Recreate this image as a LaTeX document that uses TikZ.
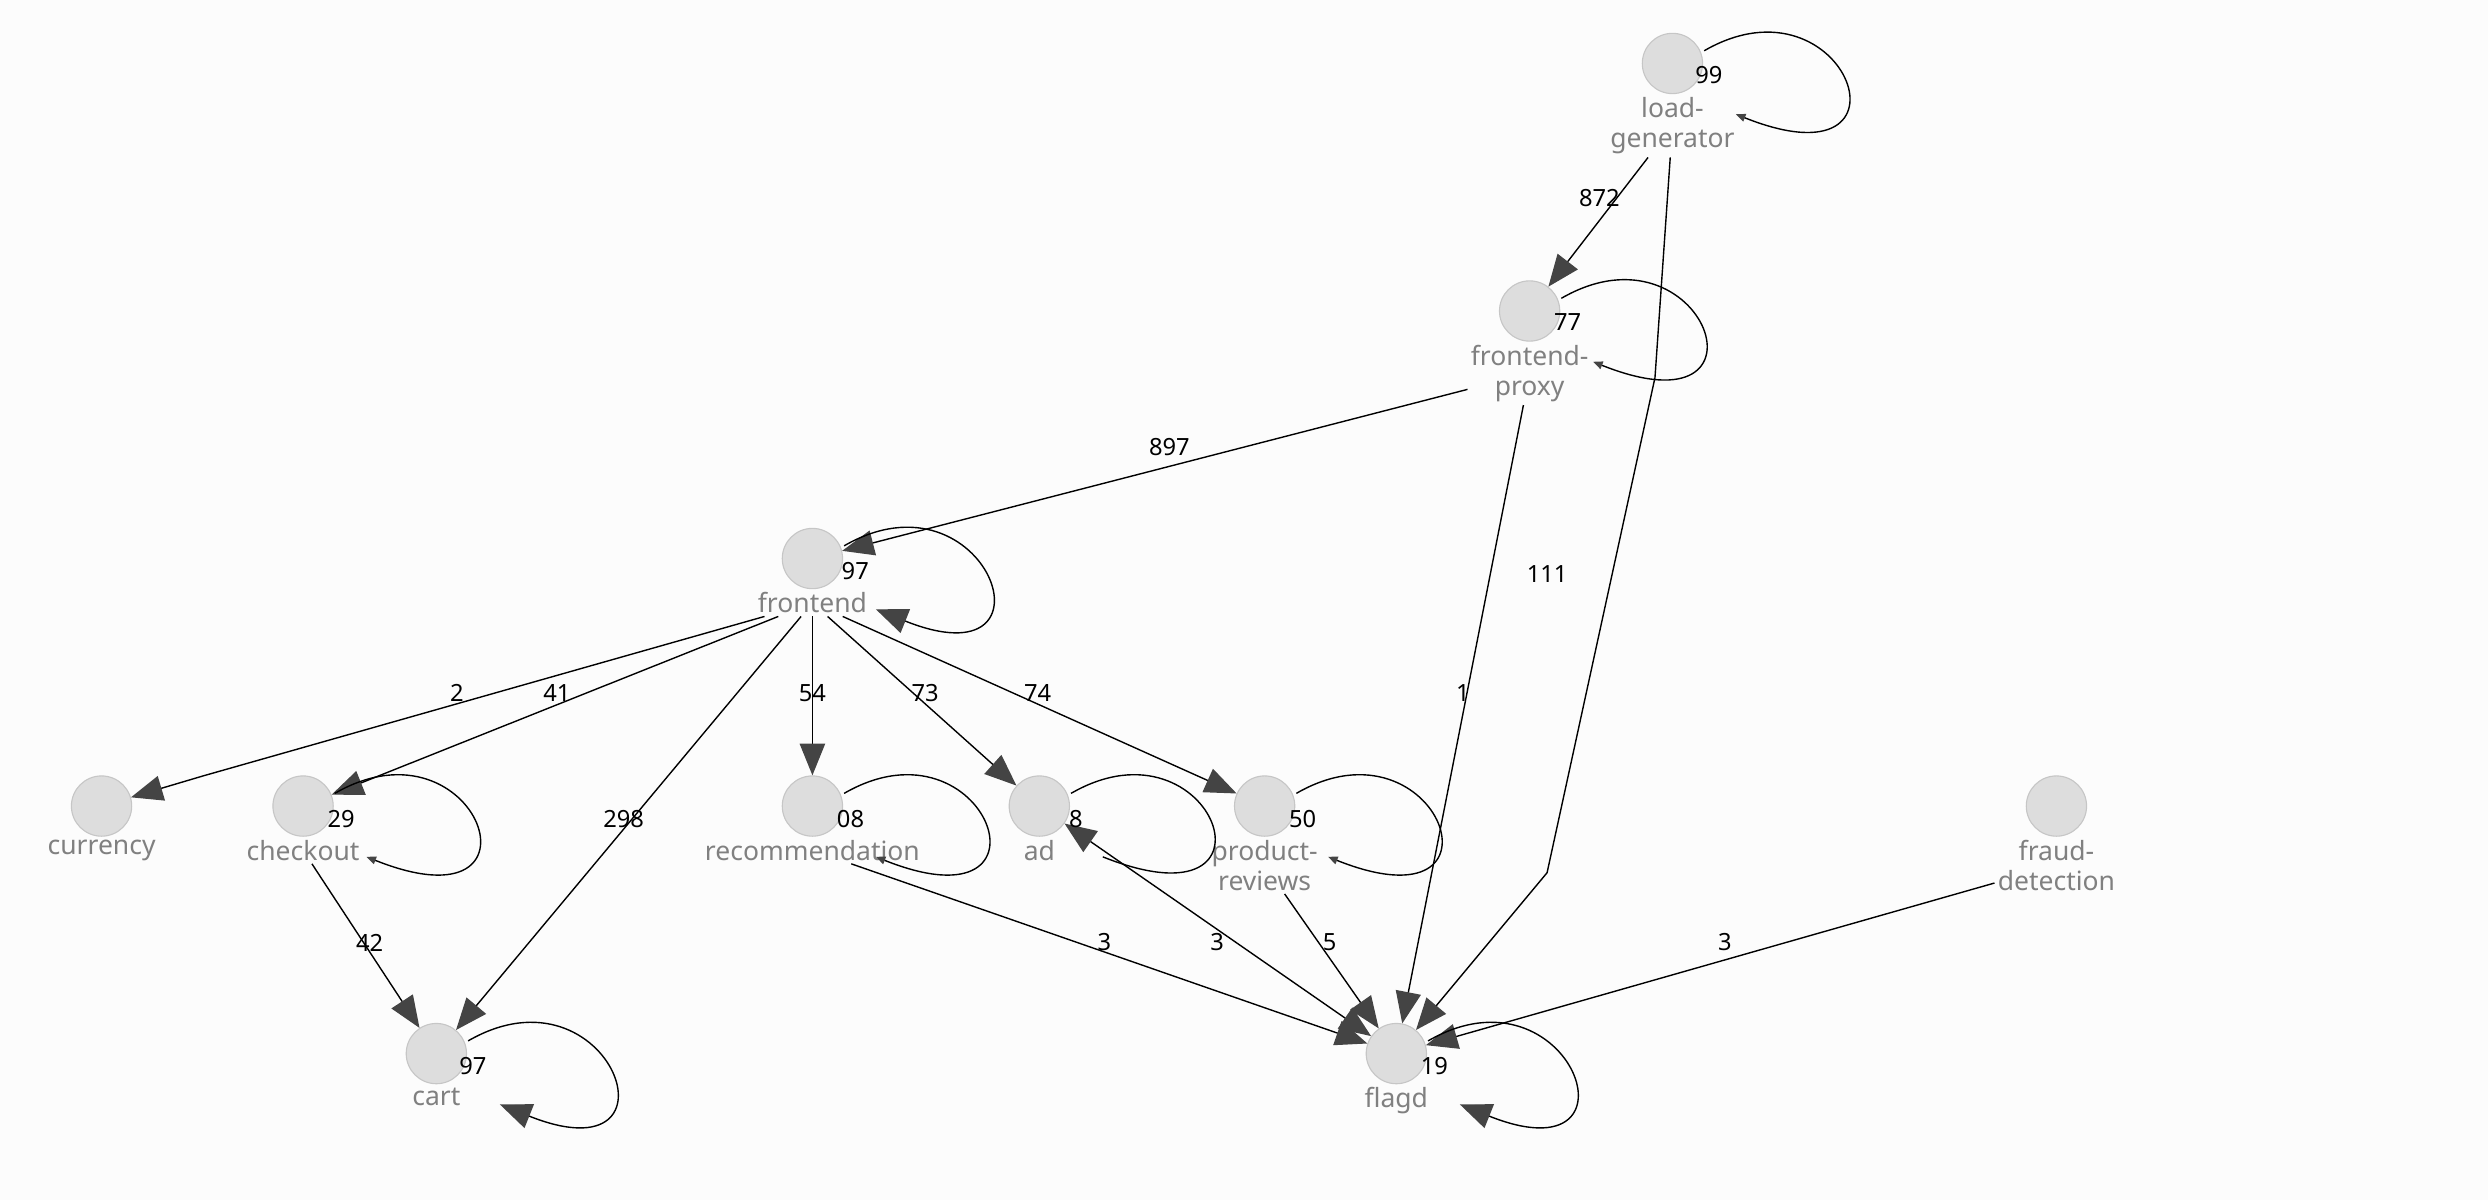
\documentclass[tikz,border=0pt]{standalone}
\usepackage{fontspec}
\setmainfont{Noto Sans}
\usetikzlibrary{arrows.meta}
\definecolor{nodefill}{HTML}{DDDDDD}
\definecolor{nodeline}{HTML}{C6C6C6}
\definecolor{nametext}{HTML}{808080}
\definecolor{tipcol}{HTML}{444444}
\tikzset{
 svc/.style={circle,fill=nodefill,draw=nodeline,minimum size=0.76cm,inner sep=0pt},
 svcname/.style={text=nametext,font=\bfseries\fontsize{9.5}{10.8}\selectfont,align=center,inner sep=1pt},
 elabel/.style={font=\bfseries\fontsize{8.5}{9}\selectfont,inner sep=0pt},
 edge/.style={draw=black,line width=0.5pt,-{Triangle[length=0.4cm,width=0.32cm,color=tipcol]}},
 smalltip/.style={draw=black,line width=0.5pt,-{Triangle[length=0.12cm,width=0.1cm,color=tipcol]}},
 both/.style={draw=black,line width=0.5pt,{Triangle[length=0.4cm,width=0.32cm,color=tipcol]}-{Triangle[length=0.4cm,width=0.32cm,color=tipcol]}},
}
% self loop: node, tip style
\newcommand{\selfloop}[2]{%
 \draw[#2] ([shift={(20,-8)}]#1.center) .. controls ([shift={(110,-60)}]#1.center) and ([shift={(160,80)}]#1.center) .. ([shift={(40,32)}]#1.center);}
\begin{document}
\begin{tikzpicture}[x=0.02cm,y=-0.02cm]
 \fill[white!99!black] (0,0) rectangle (1568,756);
 \useasboundingbox (0,0) rectangle (1568,756);

 % services
 \node[svc,label={[svcname,name=lgl]below:load-\\generator}] (lg) at (1054,40) {};
 \node[svc,label={[svcname,name=fpl]below:frontend-\\proxy}] (fp) at (964,196) {};
 \node[svc,label={[svcname,name=fel]below:frontend}] (fe) at (512,352) {};
 \node[svc,label={[svcname,name=cul]below:currency}] (cu) at (64,508) {};
 \node[svc,label={[svcname,name=col]below:checkout}] (co) at (191,508) {};
 \node[svc,label={[svcname,name=rel]below:recommendation}] (re) at (512,508) {};
 \node[svc,label={[svcname,name=adl]below:ad}] (ad) at (655,508) {};
 \node[svc,label={[svcname,name=prl]below:product-\\reviews}] (pr) at (797,508) {};
 \node[svc,label={[svcname,name=frl]below:fraud-\\detection}] (fr) at (1296,508) {};
 \node[svc,label={[svcname,name=cal]below:cart}] (ca) at (275,664) {};
 \node[svc,label={[svcname,name=fdl]below:flagd}] (fd) at (880,664) {};

 % bends
 \coordinate (b1) at (1043,238);
 \coordinate (b2) at (975,550);
 \coordinate (b3) at (128,489);

 % calls
 \draw[edge] (lgl) -- (fp);
 \draw[edge] (lgl) -- (b1) -- (b2) -- (fd);
 \draw[edge] (fpl) -- (fe);
 \draw[edge] (fpl) -- (fd);
 \draw[edge] (fel) -- (b3) -- (cu);
 \draw[edge] (fel) -- (co);
 \draw[edge] (fel) -- (ca);
 \draw[edge] (fel) -- (re);
 \draw[edge] (fel) -- (ad);
 \draw[edge] (fel) -- (pr);
 \draw[edge] (col) -- (ca);
 \draw[edge] (rel) -- (fd);
 \draw[both] (ad) -- (fd);
 \draw[edge] (prl) -- (fd);
 \draw[edge] (frl) -- (fd);

 \selfloop{lg}{smalltip}
 \selfloop{fp}{smalltip}
 \selfloop{fe}{edge}
 \selfloop{co}{smalltip}
 \selfloop{re}{smalltip}
 \selfloop{ad}{draw=black,line width=0.5pt}
 \selfloop{pr}{smalltip}
 \selfloop{ca}{edge}
 \selfloop{fd}{edge}

 % counts
 \node[elabel] (n1) at (1008,125) {872};
 \node[elabel] (n2) at (975,362) {111};
 \node[elabel] (n3) at (737,282) {897};
 \node[elabel] (n4) at (922,437) {1};
 \node[elabel] (n5) at (288,437) {2};
 \node[elabel] (n6) at (351,437) {41};
 \node[elabel] (n7) at (512,437) {54};
 \node[elabel] (n8) at (583,437) {73};
 \node[elabel] (n9) at (654,437) {74};
 \node[elabel] (n10) at (393,516) {298};
 \node[elabel] (n11) at (233,594) {42};
 \node[elabel] (n12) at (696,594) {3};
 \node[elabel] (n13) at (767,594) {3};
 \node[elabel] (n14) at (838,594) {5};
 \node[elabel] (n15) at (1087,594) {3};
 \node[elabel] (m1) at (1077,47) {99};
 \node[elabel] (m2) at (988,203) {77};
 \node[elabel] (m3) at (539,360) {97};
 \node[elabel] (m4) at (215,516) {29};
 \node[elabel] (m5) at (536,516) {08};
 \node[elabel] (m6) at (678,516) {8};
 \node[elabel] (m7) at (821,516) {50};
 \node[elabel] (m8) at (298,672) {97};
 \node[elabel] (m9) at (904,672) {19};
\end{tikzpicture}
\end{document}
